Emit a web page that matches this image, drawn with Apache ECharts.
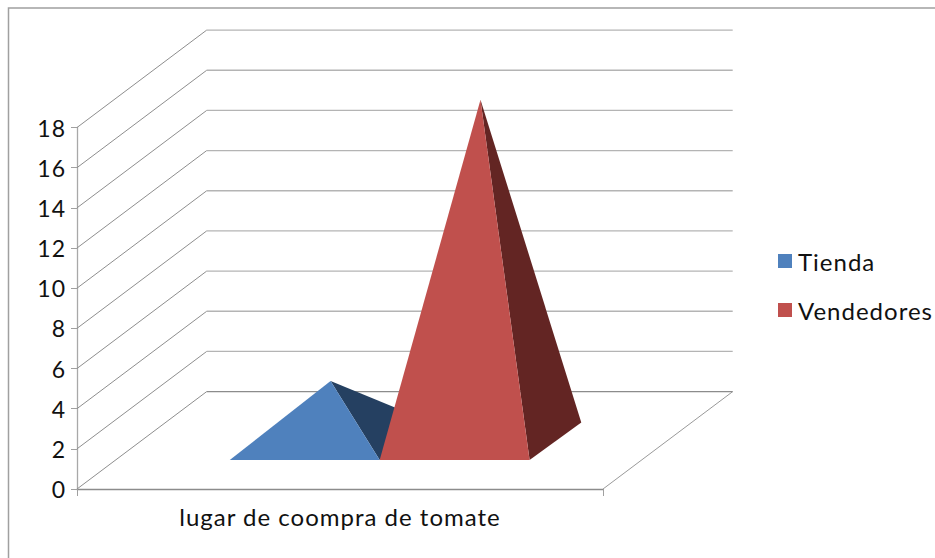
<!DOCTYPE html>
<html>
<head>
<meta charset="utf-8">
<style>
html,body{margin:0;padding:0;background:#fff}
#chart{width:935px;height:558px}
#chart text{letter-spacing:1px}
</style>
<script src="https://cdn.jsdelivr.net/npm/echarts@6/dist/echarts.min.js"></script>
</head>
<body>
<div id="chart"></div>
<script>
// Chart values
const categories = ['lugar de coompra de tomate'];
const tiendaValues = [3];
const vendedoresValues = [17];
const yTicks = [0, 2, 4, 6, 8, 10, 12, 14, 16, 18];

// Oblique projection of the chart box and the pyramid footprint
const DEPTH_DX = 129.7, DEPTH_DY = -97.4;
const PYRAMID_DX = 133.6;
const BASE_NEAR = 0.297, BASE_FAR = 0.684;
const BAR_SHARE = 0.285;

const FRONT = { tienda: '#4f81bd', vendedores: '#c0504d' };
const SIDE = { tienda: '#254061', vendedores: '#632523' };

function depthPoint(p, d, dx) {
  return [p[0] + (dx || DEPTH_DX) * d, p[1] + DEPTH_DY * d];
}

// Wall lines: one diagonal on the side wall and one horizontal on the back wall per tick
function renderWalls(params, api) {
  const tick = api.value(1);
  const band = api.size([1, 0])[0];
  const mid = api.coord([0, tick]);
  const front = [mid[0] - band / 2, mid[1]];
  const back = depthPoint(front, 1);
  const backRight = [mid[0] + band / 2 + DEPTH_DX, back[1]];
  const children = [
    { type: 'polyline', shape: { points: [front, back] }, style: { stroke: '#8e8e8e', lineWidth: 1, fill: null } },
    { type: 'line', shape: { x1: back[0], y1: back[1], x2: backRight[0], y2: backRight[1] }, style: { stroke: tick === 0 ? '#8c8c8c' : '#b4b4b4', lineWidth: 1.3 } }
  ];
  if (tick === 0) {
    // Right edge of the floor
    children.push({ type: 'line', shape: { x1: mid[0] + band / 2, y1: mid[1], x2: backRight[0], y2: backRight[1] }, style: { stroke: '#9a9a9a', lineWidth: 1 } });
  }
  return { type: 'group', children };
}

// A square pyramid: front face and right face, standing on the floor of the box
function pyramidRenderer(slot, frontColor, sideColor) {
  return function (params, api) {
    const band = api.size([1, 0])[0];
    const zero = api.coord([api.value(0), 0]);
    const top = api.coord([api.value(0), api.value(1)]);
    const width = band * BAR_SHARE;
    const left = zero[0] + (slot - 1) * width;
    const nearL = depthPoint([left, zero[1]], BASE_NEAR, PYRAMID_DX);
    const nearR = depthPoint([left + width, zero[1]], BASE_NEAR, PYRAMID_DX);
    const farR = depthPoint([left + width, zero[1]], BASE_FAR, PYRAMID_DX);
    const apex = depthPoint([left + width / 2, top[1]], (BASE_NEAR + BASE_FAR) / 2, PYRAMID_DX);
    return {
      type: 'group',
      children: [
        { type: 'polygon', shape: { points: [apex, nearR, farR] }, style: { fill: sideColor } },
        { type: 'polygon', shape: { points: [apex, nearL, nearR] }, style: { fill: frontColor } }
      ]
    };
  };
}

const chart = echarts.init(document.getElementById('chart'), null, { renderer: 'svg' });
chart.setOption({
  animation: false,
  backgroundColor: '#ffffff',
  textStyle: { fontFamily: 'Lato' },
  graphic: [{
    type: 'rect',
    silent: true,
    shape: { x: 8.5, y: 8, width: 960, height: 600 },
    style: { fill: 'none', stroke: '#a0a0a0', lineWidth: 1.5 }
  }],
  grid: { left: 77, top: 127.5, width: 526, height: 361.5 },
  legend: {
    orient: 'vertical',
    left: 773,
    top: 244,
    icon: 'rect',
    itemWidth: 14,
    itemHeight: 14,
    itemGap: 25,
    data: ['Tienda', 'Vendedores'],
    textStyle: { fontFamily: 'Lato', fontSize: 24, color: '#111111', padding: [0, 0, 9, 1] }
  },
  xAxis: {
    type: 'category',
    data: categories,
    axisLine: { lineStyle: { color: '#8c8c8c', width: 1.3 } },
    axisTick: { show: true, length: 7, lineStyle: { color: '#a0a0a0' } },
    axisLabel: { fontSize: 24, color: '#111111', margin: 15, fontFamily: 'Lato' }
  },
  yAxis: {
    type: 'value',
    min: 0,
    max: 18,
    interval: 2,
    splitLine: { show: false },
    axisLine: { show: true, lineStyle: { color: '#a8a8a8', width: 1.3 } },
    axisTick: { show: true, length: 6, lineStyle: { color: '#a0a0a0' } },
    axisLabel: { fontSize: 23, color: '#111111', margin: 11, fontFamily: 'Lato', padding: [0, 0, 2, 0] }
  },
  series: [
    {
      type: 'custom',
      name: 'walls',
      silent: true,
      clip: false,
      z: 1,
      data: yTicks.map(t => [0, t]),
      encode: { x: 0, y: 1 },
      renderItem: renderWalls
    },
    {
      type: 'custom',
      name: 'Tienda',
      clip: false,
      z: 2,
      itemStyle: { color: FRONT.tienda },
      data: tiendaValues.map((v, i) => [i, v]),
      encode: { x: 0, y: 1 },
      renderItem: pyramidRenderer(0, FRONT.tienda, SIDE.tienda)
    },
    {
      type: 'custom',
      name: 'Vendedores',
      clip: false,
      z: 3,
      itemStyle: { color: FRONT.vendedores },
      data: vendedoresValues.map((v, i) => [i, v]),
      encode: { x: 0, y: 1 },
      renderItem: pyramidRenderer(1, FRONT.vendedores, SIDE.vendedores)
    }
  ]
});
</script>
</body>
</html>
